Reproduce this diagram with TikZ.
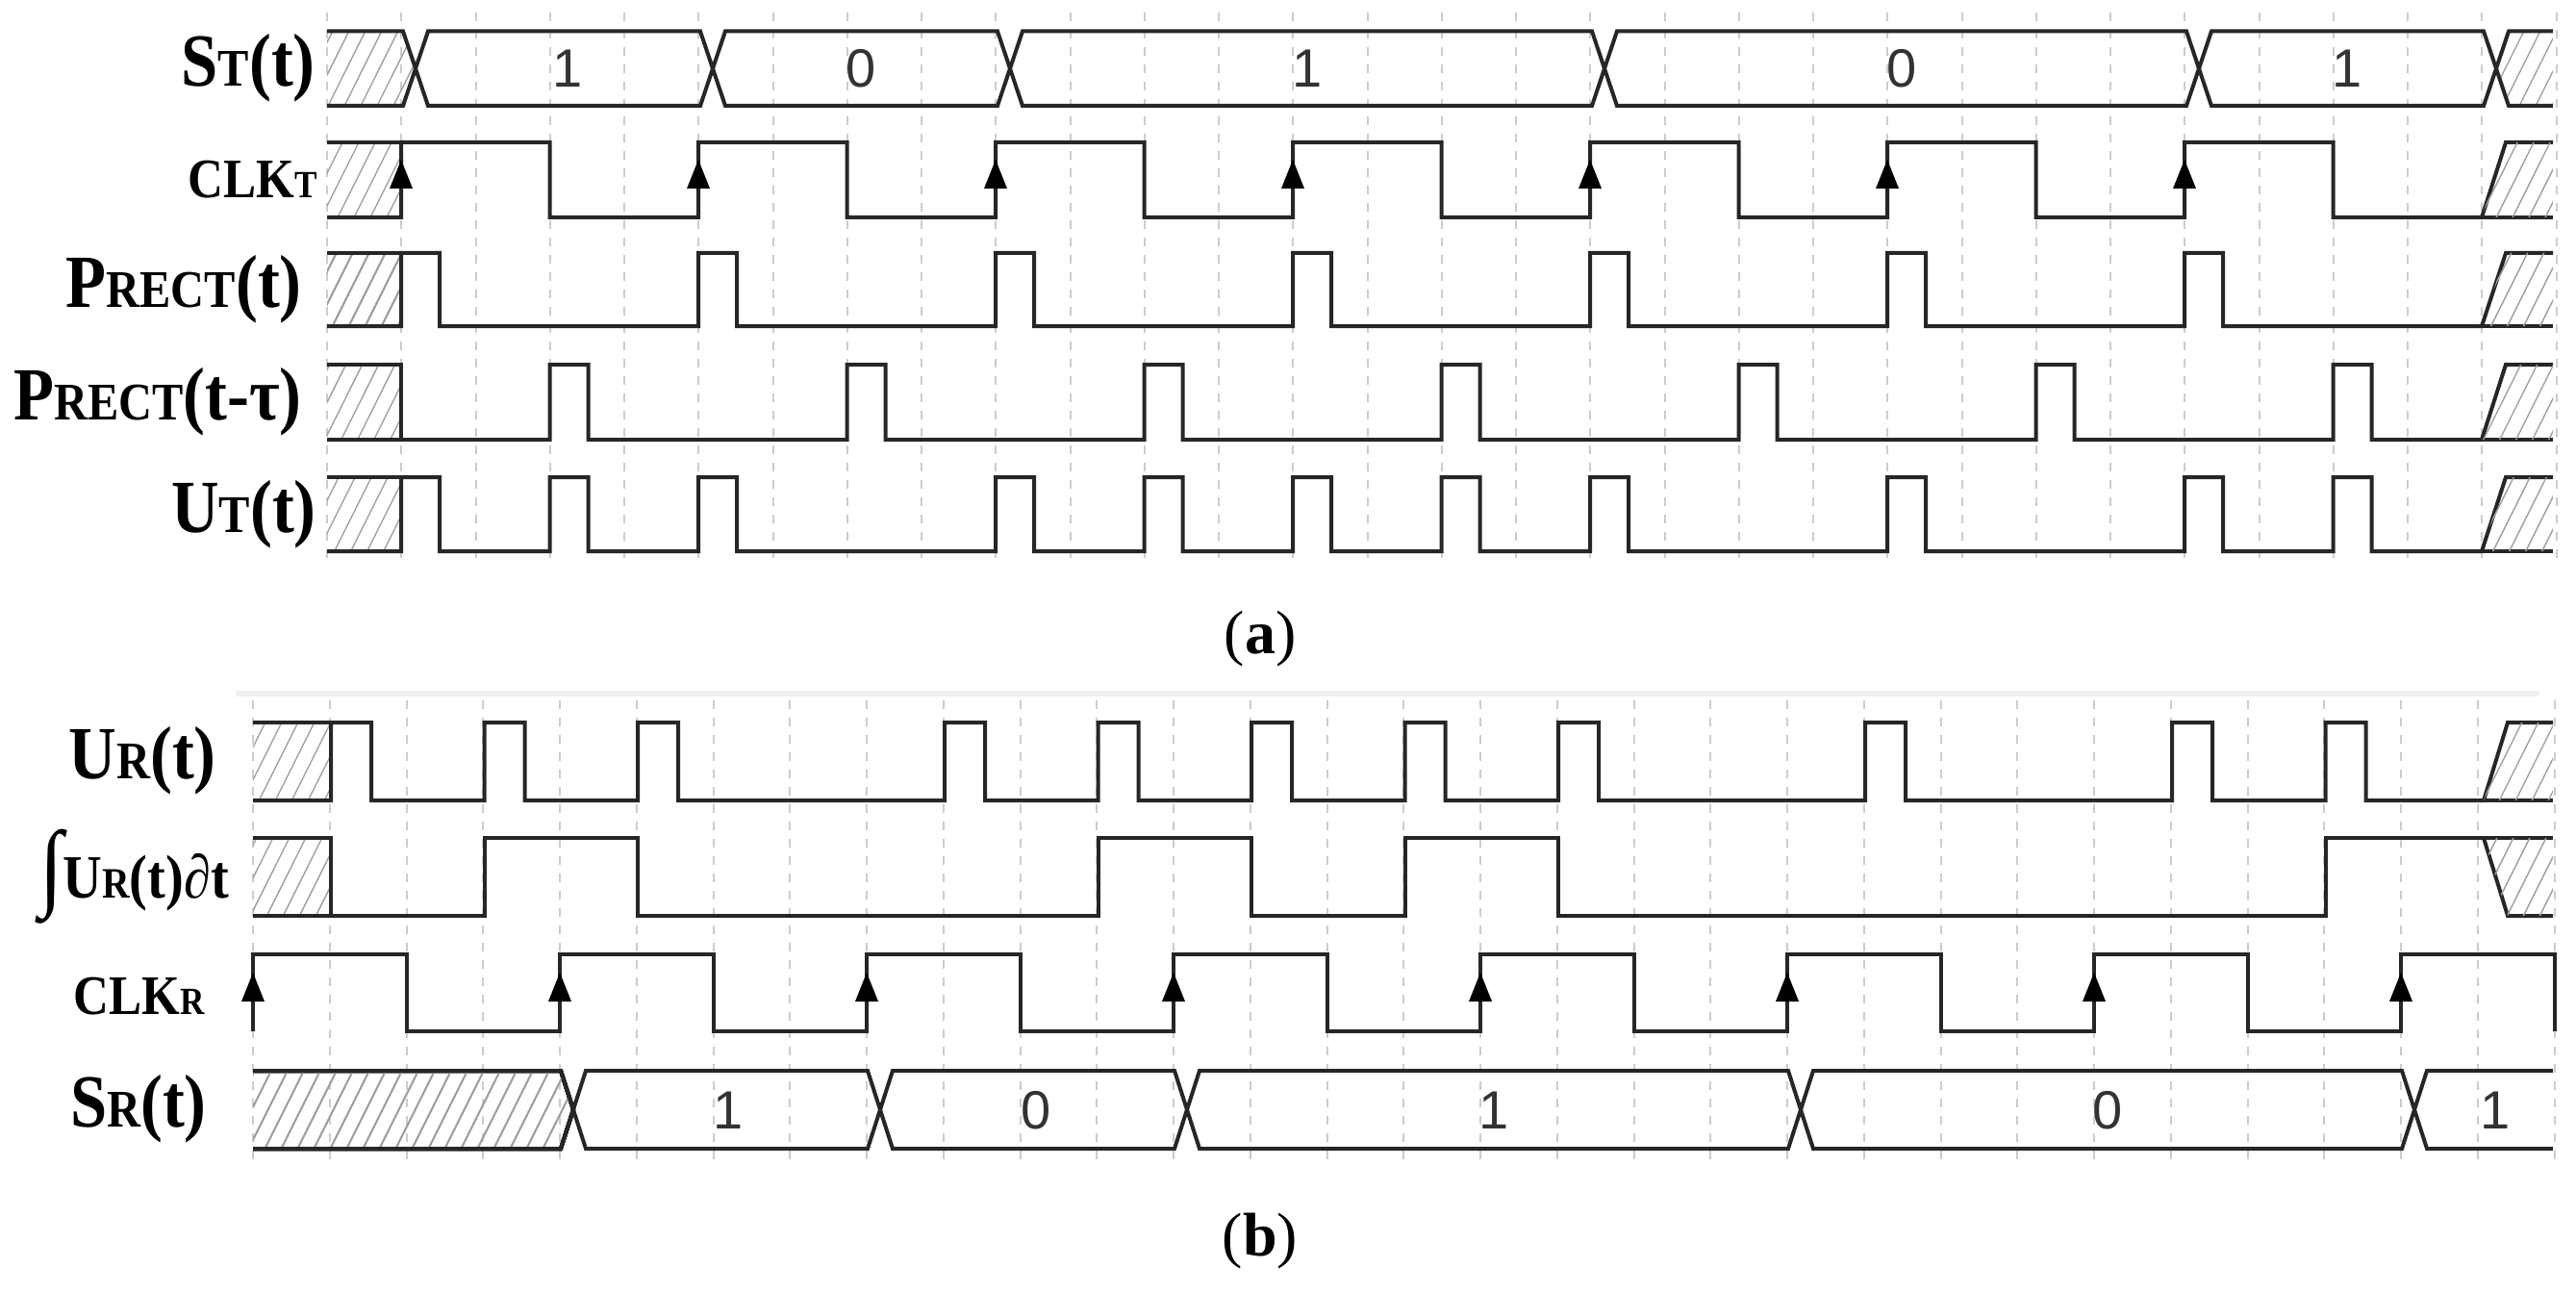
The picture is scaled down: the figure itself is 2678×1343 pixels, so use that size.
\documentclass[tikz,border=0pt]{standalone}
\usepackage{fontspec}
\usepackage{graphicx}
\setmainfont{Liberation Serif}
\newfontfamily\busfont{Liberation Sans}
\tikzset{
  sig/.style={line width=4pt, black!85, line join=miter},
  hl/.style={line width=1.4pt, gray!75},
  gridl/.style={line width=2pt, gray!40, dash pattern=on 9pt off 9pt},
  lab/.style={anchor=east, inner sep=0pt, font=\bfseries},
  bus/.style={font=\busfont\fontsize{56}{56}\selectfont, text=black!80},
  captxt/.style={font=\fontsize{64}{64}\selectfont}
}
\newcommand\hatchfill[1]{\begin{scope}\clip #1; \foreach \x in {-700,-683,...,2680} \draw[hl] (\x,1343)--(\x+671,0);\end{scope}}
\newcommand\busseg[4]{\draw[sig] (#1,{(#3+#4)/2})--(#1+13,#3)--(#2-13,#3)--(#2,{(#3+#4)/2})--(#2-13,#4)--(#1+13,#4)--cycle;}
\newcommand\upar[3]{\fill[black] (#1,#2) -- (#1-12,#3) -- (#1+12,#3) -- cycle;}
\newcommand\BIG{\fontsize{78}{78}\selectfont}
\newcommand\SMALL{\fontsize{55}{55}\selectfont}
\newcommand\CLKf{\fontsize{58}{58}\selectfont}
\newcommand\CLKs{\fontsize{40}{40}\selectfont}
\newcommand\cond[1]{\scalebox{0.88}[1]{#1}}
\begin{document}
\begin{tikzpicture}[x=1pt,y=-1pt]
\useasboundingbox (0,0) rectangle (2678,1343);
% grids
\foreach \j in {0,...,30} \draw[gridl] (340+77.25*\j,13) -- (340+77.25*\j,589);
\draw[line width=6pt, gray!12] (245,721) -- (2640,721);
\foreach \j in {0,...,30} \draw[gridl] (263+79.75*\j,728) -- (263+79.75*\j,1211);
% ===== panel (a) =====
% S_T
\hatchfill{(340,32.5)--(419,32.5)--(432,71.25)--(419,110)--(340,110)--cycle}
\draw[sig] (340,32.5)--(419,32.5)--(432,71.25)--(419,110)--(340,110);
\busseg{432}{741}{32.5}{110}
\busseg{741}{1050}{32.5}{110}
\busseg{1050}{1668}{32.5}{110}
\busseg{1668}{2286}{32.5}{110}
\busseg{2286}{2595}{32.5}{110}
\hatchfill{(2595,71.25)--(2608,32.5)--(2654,32.5)--(2654,110)--(2608,110)--cycle}
\draw[sig] (2654,32.5)--(2608,32.5)--(2595,71.25)--(2608,110)--(2654,110);
\node[bus] (b1) at (590,71) {1};
\node[bus] (b2) at (895,71) {0};
\node[bus] (b3) at (1359,71) {1};
\node[bus] (b4) at (1977,71) {0};
\node[bus] (b5) at (2440,71) {1};
% CLK_T
\hatchfill{(340,148) rectangle (417,226)}
\draw[sig] (340,148)--(417,148);
\draw[sig] (340,226) foreach \k in {0,...,6} { -- (417+309*\k,226) -- (417+309*\k,148) -- (571.5+309*\k,148) -- (571.5+309*\k,226) } -- (2580,226) -- (2605,148) -- (2654,148);
\draw[sig] (2580,226)--(2654,226);
\hatchfill{(2580,226)--(2605,148)--(2654,148)--(2654,226)--cycle}
\foreach \k in {0,...,6} \upar{417+309*\k}{166}{196}
% P_RECT(t)
\hatchfill{(340,263) rectangle (417,339)}
\draw[sig] (340,263)--(417,263);
\draw[sig] (340,339) foreach \s in {417,726,1035,1344,1653,1962,2271} { -- (\s,339) -- (\s,263) -- (\s+40,263) -- (\s+40,339) } -- (2580,339) -- (2605,263) -- (2654,263);
\draw[sig] (2580,339)--(2654,339);
\hatchfill{(2580,339)--(2605,263)--(2654,263)--(2654,339)--cycle}
% P_RECT(t-tau)
\hatchfill{(340,379) rectangle (417,457)}
\draw[sig] (340,379)--(417,379)--(417,457);
\draw[sig] (340,457) foreach \s in {571.5,880.5,1189.5,1498.5,1807.5,2116.5,2425.5} { -- (\s,457) -- (\s,379) -- (\s+40,379) -- (\s+40,457) } -- (2580,457) -- (2605,379) -- (2654,379);
\draw[sig] (2580,457)--(2654,457);
\hatchfill{(2580,457)--(2605,379)--(2654,379)--(2654,457)--cycle}
% U_T
\hatchfill{(340,496) rectangle (417,573)}
\draw[sig] (340,496)--(417,496);
\draw[sig] (340,573) foreach \s in {417,571.5,726,1035,1189.5,1344,1498.5,1653,1962,2271,2425.5} { -- (\s,573) -- (\s,496) -- (\s+40,496) -- (\s+40,573) } -- (2580,573) -- (2605,496) -- (2654,496);
\draw[sig] (2580,573)--(2654,573);
\hatchfill{(2580,573)--(2605,496)--(2654,496)--(2654,573)--cycle}
% labels (a)
\node[lab] (lST) at (328,71) {\cond{\BIG S{\SMALL T}(t)}};
\node[lab] (lCLKT) at (330,187) {\cond{\CLKf CLK{\CLKs T}}};
\node[lab] (lPR) at (314,301) {\cond{\BIG P{\SMALL RECT}(t)}};
\node[lab] (lPD) at (314,418) {\cond{\BIG P{\SMALL RECT}(t-τ)}};
\node[lab] (lUT) at (329,535) {\cond{\BIG U{\SMALL T}(t)}};
\node[captxt] (capa) at (1310,664) {(\textbf{a})};
% ===== panel (b) =====
% U_R
\hatchfill{(263,751) rectangle (344,832)}
\draw[sig] (263,751)--(344,751);
\draw[sig] (263,832) foreach \s in {344,503.5,663,982,1141.5,1301,1460.5,1620,1939,2258,2417.5} { -- (\s,832) -- (\s,751) -- (\s+42,751) -- (\s+42,832) } -- (2582,832) -- (2607,751) -- (2654,751);
\draw[sig] (2582,832)--(2654,832);
\hatchfill{(2582,832)--(2607,751)--(2654,751)--(2654,832)--cycle}
% integral
\hatchfill{(263,871) rectangle (344,952)}
\draw[sig] (263,871)--(344,871)--(344,952);
\draw[sig] (263,952)--(503.5,952)--(503.5,871)--(663,871)--(663,952)--(1141.5,952)--(1141.5,871)--(1301,871)--(1301,952)--(1460.5,952)--(1460.5,871)--(1620,871)--(1620,952)--(2417.5,952)--(2417.5,871)--(2654,871);
\draw[sig] (2582,871)--(2607,952)--(2654,952);
\hatchfill{(2582,871)--(2654,871)--(2654,952)--(2607,952)--cycle}
% CLK_R
\draw[sig] (263,1072) foreach \k in {0,...,7} { -- (263+319*\k,1072) -- (263+319*\k,992) -- (422.5+319*\k,992) -- (422.5+319*\k,1072) };
\foreach \k in {0,...,7} \upar{263+319*\k}{1011}{1041}
% S_R
\hatchfill{(263,1113)--(583,1113)--(596,1153.5)--(583,1194)--(263,1194)--cycle}
\draw[sig] (263,1113)--(583,1113)--(596,1153.5)--(583,1194)--(263,1194);
\busseg{596}{915}{1113}{1194}
\busseg{915}{1234}{1113}{1194}
\busseg{1234}{1872}{1113}{1194}
\busseg{1872}{2510}{1113}{1194}
\draw[sig] (2654,1113)--(2523,1113)--(2510,1153.5)--(2523,1194)--(2654,1194);
\node[bus] (c1) at (757,1154) {1};
\node[bus] (c2) at (1077,1154) {0};
\node[bus] (c3) at (1553,1154) {1};
\node[bus] (c4) at (2191,1154) {0};
\node[bus] (c5) at (2594,1154) {1};
% labels (b)
\node[lab] (lUR) at (225,791) {\cond{\BIG U{\SMALL R}(t)}};
\node[lab] (lINT) at (238,911) {\cond{{\fontsize{100}{100}\selectfont ∫}{\fontsize{64}{64}\selectfont U{\fontsize{45}{45}\selectfont R}(t)∂t}}};
\node[lab] (lCLKR) at (213,1036) {\cond{\CLKf CLK{\CLKs R}}};
\node[lab] (lSR) at (215,1153) {\cond{\BIG S{\SMALL R}(t)}};
\node[captxt] (capb) at (1310,1290) {(\textbf{b})};
\end{tikzpicture}
\end{document}
